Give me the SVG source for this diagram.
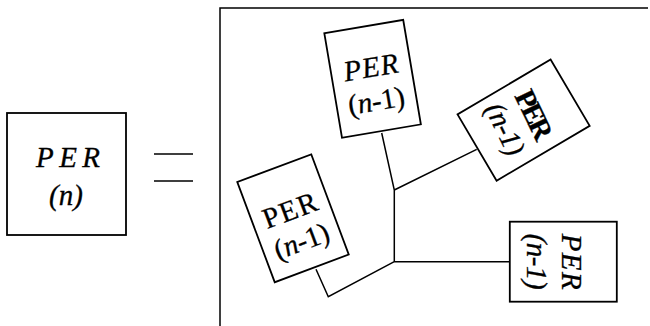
<svg xmlns="http://www.w3.org/2000/svg" width="650" height="326" viewBox="0 0 650 326">
<style>
.box{fill:#fff;stroke:#000;stroke-width:1.8}
.ln{fill:none;stroke:#000;stroke-width:1.5}
.t{font-family:"Liberation Serif","DejaVu Serif",serif;font-size:29px;font-style:italic;text-anchor:middle;fill:#000;stroke:#000;stroke-width:0.3}
.up{font-style:normal}
.b{font-weight:bold;font-style:normal}
</style>
<rect width="650" height="326" fill="#fff"/>
<g id="frame">
<path class="ln" d="M220,326 V8 H648"/>
</g>
<g id="equals">
<path class="ln" d="M154,154 H193 M154,181 H193"/>
</g>
<g id="connectors">
<path class="ln" d="M381.7,133 L394.3,190 V261.7 M394.3,190 L476.7,149.3 M394.3,261.7 H510 M394.3,261.7 L328.3,296.7 L316,269.3"/>
</g>
<g id="per-n">
<rect class="box" x="7" y="113" width="119" height="122"/>
<text class="t" x="68" y="167" textLength="64">PER</text>
<text class="t" x="66" y="205">(n)</text>
</g>
<g id="per-top" transform="translate(372.6,78.8) rotate(-9.6)">
<rect class="box" x="-40" y="-53" width="80" height="106"/>
<text class="t" x="0" y="-2" textLength="55">PER</text>
<text class="t up" x="0" y="32" textLength="57">(<tspan font-style="italic">n</tspan>-1)</text>
</g>
<g id="per-left" transform="translate(293,218.3) rotate(-20.5)">
<rect class="box" x="-39.5" y="-53.5" width="79" height="107"/>
<text class="t up" x="0" y="1" textLength="56">PER</text>
<text class="t up" x="0" y="34" textLength="57">(<tspan font-style="italic">n</tspan>-1)</text>
</g>
<g id="per-right-up" transform="translate(523.6,120.1) rotate(64)">
<rect class="box" x="-38.5" y="-54" width="77" height="108" transform="rotate(-4.5)"/>
<text class="t b" x="0" y="-2" textLength="52">PER</text>
<text class="t" x="0" y="30" textLength="55">(n-1)</text>
</g>
<g id="per-right-down" transform="translate(563.3,261.7) rotate(90)">
<rect class="box" x="-40" y="-53.5" width="80" height="107"/>
<text class="t" x="0" y="1" textLength="56">PER</text>
<text class="t" x="0" y="36" textLength="56">(n-1)</text>
</g>
</svg>
